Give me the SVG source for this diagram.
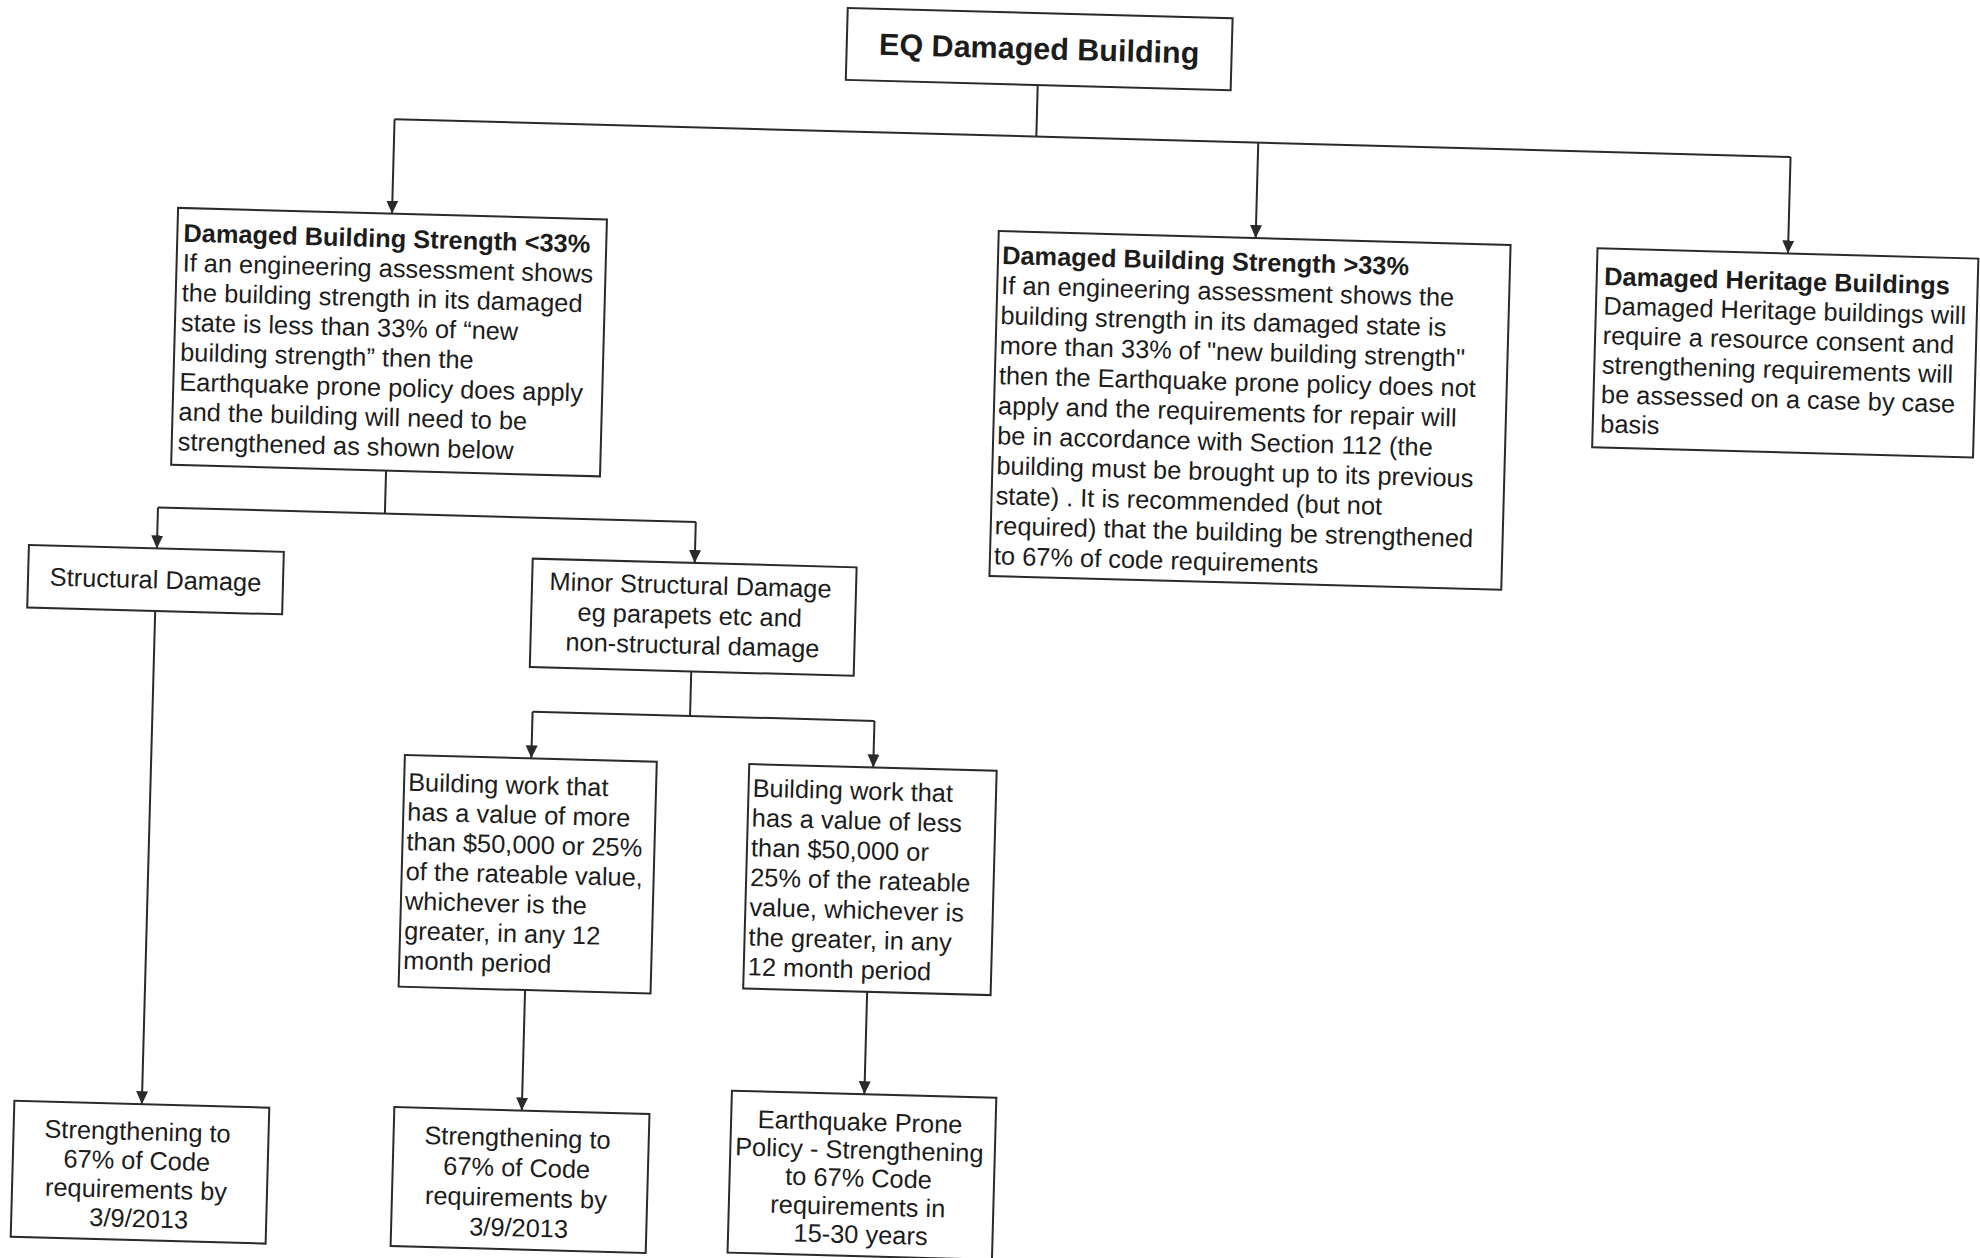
<svg xmlns="http://www.w3.org/2000/svg" width="1980" height="1258" viewBox="0 0 1980 1258">
<style>
.box{fill:#fff;stroke:#2a2a2a;stroke-width:2}
.t{font-family:"Liberation Sans",Arial,sans-serif;font-size:25.4px;fill:#1c1c1c}
.b{font-weight:bold}
.c{text-anchor:middle}
.ln{fill:none;stroke:#2a2a2a;stroke-width:2}
.ar{marker-end:url(#arrow)}
</style>
<defs>
<marker id="arrow" markerUnits="userSpaceOnUse" markerWidth="14" markerHeight="13" refX="13" refY="6" orient="auto">
<path d="M0,0 L13,6 L0,12 z" fill="#2a2a2a"/>
</marker>
</defs>
<rect width="1980" height="1258" fill="#fff"/>
<g transform="rotate(1.55 990 629)">
<g id="connectors">
<path class="ln" d="M1023,84 V135.5"/>
<path class="ln" d="M381,135.5 H1777.5"/>
<path class="ln ar" d="M381,135.5 V230"/>
<path class="ln ar" d="M1245,135.5 V231"/>
<path class="ln ar" d="M1777.5,135.5 V232"/>
<path class="ln" d="M382,487 V530"/>
<path class="ln" d="M155,530 H693"/>
<path class="ln ar" d="M155,530 V571"/>
<path class="ln ar" d="M693,530 V571"/>
<path class="ln" d="M692.5,679.5 V724"/>
<path class="ln" d="M535,724 H877"/>
<path class="ln ar" d="M535,724 V770.7"/>
<path class="ln ar" d="M877,724 V770.5"/>
<path class="ln ar" d="M155,633.5 V1127"/>
<path class="ln ar" d="M535,1002.5 V1123"/>
<path class="ln ar" d="M877,995 V1097.5"/>
</g>
<g id="eq-damaged-building">
<rect class="box" x="831" y="12" width="385" height="72"/>
<text class="t b c" x="1023.5" y="58" style="font-size:30.5px">EQ Damaged Building</text>
</g>
<g id="strength-less-33">
<rect class="box" x="167" y="230" width="429" height="257"/>
<text class="t" x="173">
<tspan class="b" x="173" y="263.6">Damaged Building Strength &lt;33%</tspan>
<tspan x="173" y="293.4">If an engineering assessment shows</tspan>
<tspan x="173" y="323.2">the building strength in its damaged</tspan>
<tspan x="173" y="353">state is less than 33% of “new</tspan>
<tspan x="173" y="382.8">building strength” then the</tspan>
<tspan x="173" y="412.6">Earthquake prone policy does apply</tspan>
<tspan x="173" y="442.4">and the building will need to be</tspan>
<tspan x="173" y="472.2">strengthened as shown below</tspan>
</text>
</g>
<g id="strength-more-33">
<rect class="box" x="988" y="231" width="512" height="345"/>
<text class="t">
<tspan class="b" x="992" y="263.8">Damaged Building Strength &gt;33%</tspan>
<tspan x="992" y="293.8">If an engineering assessment shows the</tspan>
<tspan x="992" y="323.9">building strength in its damaged state is</tspan>
<tspan x="992" y="353.9">more than 33% of "new building strength"</tspan>
<tspan x="992" y="384">then the Earthquake prone policy does not</tspan>
<tspan x="992" y="414">apply and the requirements for repair will</tspan>
<tspan x="992" y="444.1">be in accordance with Section 112 (the</tspan>
<tspan x="992" y="474.1">building must be brought up to its previous</tspan>
<tspan x="992" y="504.2">state) . It is recommended (but not</tspan>
<tspan x="992" y="534.2">required) that the building be strengthened</tspan>
<tspan x="992" y="564.3">to 67% of code requirements</tspan>
</text>
</g>
<g id="heritage">
<rect class="box" x="1587" y="232" width="381" height="199"/>
<text class="t">
<tspan class="b" x="1594.5" y="268.5">Damaged Heritage Buildings</tspan>
<tspan x="1594.5" y="298">Damaged Heritage buildings will</tspan>
<tspan x="1594.5" y="327.5">require a resource consent and</tspan>
<tspan x="1594.5" y="357">strengthening requirements will</tspan>
<tspan x="1594.5" y="386.5">be assessed on a case by case</tspan>
<tspan x="1594.5" y="416">basis</tspan>
</text>
</g>
<g id="structural-damage">
<rect class="box" x="27" y="571" width="255" height="62.5"/>
<text class="t c" x="154.5" y="611">Structural Damage</text>
</g>
<g id="minor-structural-damage">
<rect class="box" x="531" y="571" width="324" height="108.5"/>
<text class="t c">
<tspan x="693" y="602">Minor Structural Damage</tspan>
<tspan x="693" y="632">eg parapets etc and</tspan>
<tspan x="693" y="662">non-structural damage</tspan>
</text>
</g>
<g id="work-more">
<rect class="box" x="408.5" y="770.7" width="252" height="231.8"/>
<text class="t">
<tspan x="412.5" y="806.5">Building work that</tspan>
<tspan x="412.5" y="836.2">has a value of more</tspan>
<tspan x="412.5" y="865.9">than $50,000 or 25%</tspan>
<tspan x="412.5" y="895.6">of the rateable value,</tspan>
<tspan x="412.5" y="925.3">whichever is the</tspan>
<tspan x="412.5" y="955">greater, in any 12</tspan>
<tspan x="412.5" y="984.7">month period</tspan>
</text>
</g>
<g id="work-less">
<rect class="box" x="753" y="770.5" width="247.5" height="224.5"/>
<text class="t">
<tspan x="757" y="803">Building work that</tspan>
<tspan x="757" y="832.8">has a value of less</tspan>
<tspan x="757" y="862.6">than $50,000 or</tspan>
<tspan x="757" y="892.4">25% of the rateable</tspan>
<tspan x="757" y="922.2">value, whichever is</tspan>
<tspan x="757" y="952">the greater, in any</tspan>
<tspan x="757" y="981.8">12 month period</tspan>
</text>
</g>
<g id="strengthening-1">
<rect class="box" x="27.5" y="1127" width="255" height="136"/>
<text class="t c">
<tspan x="155" y="1163">Strengthening to</tspan>
<tspan x="155" y="1192">67% of Code</tspan>
<tspan x="155" y="1221">requirements by</tspan>
<tspan x="155" y="1250">3/9/2013</tspan>
</text>
</g>
<g id="strengthening-2">
<rect class="box" x="407.5" y="1123" width="255.2" height="139"/>
<text class="t c">
<tspan x="535" y="1159">Strengthening to</tspan>
<tspan x="535" y="1189">67% of Code</tspan>
<tspan x="535" y="1219">requirements by</tspan>
<tspan x="535" y="1249">3/9/2013</tspan>
</text>
</g>
<g id="eq-prone-policy">
<rect class="box" x="744.5" y="1097.5" width="264.5" height="162"/>
<text class="t c">
<tspan x="877" y="1134">Earthquake Prone</tspan>
<tspan x="877" y="1162">Policy - Strengthening</tspan>
<tspan x="877" y="1190">to 67% Code</tspan>
<tspan x="877" y="1218.5">requirements in</tspan>
<tspan x="877" y="1246.5">15-30 years</tspan>
</text>
</g>
</g>
</svg>
